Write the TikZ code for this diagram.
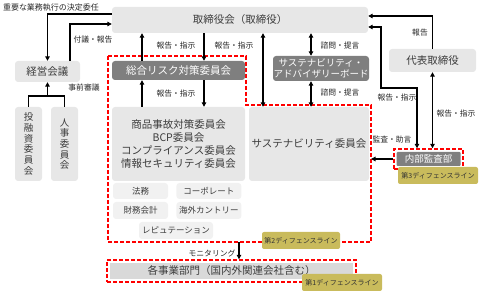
\documentclass[tikz,border=0pt]{standalone}
\usepackage{fontspec}
\setmainfont{Noto Sans CJK JP}
\usetikzlibrary{arrows.meta, positioning, calc}
\definecolor{boxgray}{RGB}{231,231,231}
\definecolor{subgray}{RGB}{241,241,241}
\definecolor{unitgray}{RGB}{217,217,217}
\definecolor{darkbox}{RGB}{127,127,127}
\definecolor{textgray}{RGB}{60,60,60}
\definecolor{lineolive}{RGB}{201,187,92}
\definecolor{framered}{RGB}{255,0,0}
\tikzset{
    lightbox/.style={rectangle, fill=boxgray, rounded corners=3pt, inner sep=0pt,
        text=textgray, align=center, font=\fontsize{10.5}{12.7}\selectfont},
    darkblock/.style={lightbox, fill=darkbox, text=white},
    subblock/.style={lightbox, fill=subgray, font=\fontsize{8.5}{10}\selectfont},
    vertblock/.style={lightbox, font=\fontsize{9.5}{10.7}\selectfont},
    defline/.style={rectangle, fill=lineolive, rounded corners=2pt, inner sep=0pt,
        text=black!80, font=\fontsize{7}{8}\selectfont},
    redframe/.style={draw=framered, line width=1.4pt, dash pattern=on 4pt off 2pt},
    lbl/.style={inner sep=0pt, text=black!85, font=\fontsize{7.8}{9}\selectfont},
    arrow/.style={-{Triangle[length=4.5pt, width=4.5pt]}, line width=1.2pt},
    twoway/.style={{Triangle[length=4.5pt, width=4.5pt]}-{Triangle[length=4.5pt, width=4.5pt]}, line width=1.2pt}
}

\begin{document}
\begin{tikzpicture}[x=1pt, y=-1pt]
    \useasboundingbox (0,0) rectangle (480,294);

    % 2nd defence line frame
    \coordinate (r1) at (108,56);
    \coordinate (r2) at (246,56);
    \coordinate (r3) at (246,105);
    \coordinate (r4) at (371,105);
    \coordinate (r5) at (371,242);
    \coordinate (r6) at (108,242);
    \draw[redframe] (r1) -- (r2) -- (r3) -- (r4) -- (r5) -- (r6) -- cycle;

    \node[lightbox, minimum width=256pt, minimum height=26pt] (board) at (240,20) {取締役会（取締役）};
    \node[lightbox, minimum width=65pt, minimum height=21pt] (keiei) at (47.5,71.5) {経営会議};
    \node[vertblock, minimum width=27pt, minimum height=74pt] (toyushi) at (28.5,144) {投\\融\\資\\委\\員\\会};
    \node[vertblock, minimum width=27pt, minimum height=74pt] (jinji) at (64.5,144) {人\\事\\委\\員\\会};

    \node[darkblock, minimum width=133pt, minimum height=19pt] (sogo) at (178.5,70.5) {総合リスク対策委員会};
    \node[darkblock, minimum width=96pt, minimum height=25pt, font=\fontsize{9.5}{11.5}\selectfont] (advisory) at (321,68.5) {サステナビリティ・\\アドバイザリーボード};
    \node[lightbox, minimum width=133pt, minimum height=74pt] (shohin) at (178.5,144) {商品事故対策委員会\\BCP委員会\\コンプライアンス委員会\\情報セキュリティ委員会};
    \node[lightbox, minimum width=120pt, minimum height=74pt] (sust) at (309,144) {サステナビリティ委員会};

    \node[subblock, minimum width=55pt, minimum height=16pt] (homu) at (140.5,191) {法務};
    \node[subblock, minimum width=65pt, minimum height=16pt, right=8pt of homu] (corp) {コーポレート};
    \node[subblock, minimum width=55pt, minimum height=17pt] (zaimu) at (140.5,210.5) {財務会計};
    \node[subblock, minimum width=65pt, minimum height=17pt, right=8pt of zaimu] (kaigai) {海外カントリー};
    \node[subblock, minimum width=74pt, minimum height=17pt] (repu) at (176,230.5) {レピュテーション};
    \node[defline, minimum width=78pt, minimum height=17pt] (line2) at (301,240.5) {第2ディフェンスライン};

    % 1st defence line
    \node[redframe, minimum width=249pt, minimum height=22pt] (jigyoframe) at (231.5,271) {};
    \node[lightbox, fill=unitgray, rounded corners=0pt, minimum width=243pt, minimum height=16pt] (jigyo) at (jigyoframe) {各事業部門（国内外関連会社含む）};
    \node[defline, minimum width=80pt, minimum height=17pt] (line1) at (342,282.5) {第1ディフェンスライン};

    % 3rd defence line
    \node[lightbox, minimum width=87pt, minimum height=23pt] (daihyo) at (432.5,60.5) {代表取締役};
    \node[redframe, minimum width=69pt, minimum height=20pt] (naibuframe) at (428.5,159) {};
    \node[darkblock, rounded corners=1pt, minimum width=64pt, minimum height=14pt, font=\fontsize{9.5}{11}\selectfont] (naibu) at (naibuframe) {内部監査部};
    \node[defline, minimum width=80pt, minimum height=17pt] (line3) at (438,175.5) {第3ディフェンスライン};

    % left side
    \node[lbl, font=\fontsize{8}{9}\selectfont] (inin) at (51,8) {重要な業務執行の決定委任};
    \draw[arrow] (board.west |- 0,14) -| (keiei.north);
    \draw[arrow] (keiei.north -| 70,0) |- (board.west |- 0,24);
    \node[lbl] (fugi) at (93,40) {付議・報告};
    \coordinate (merge) at (47.5,96);
    \draw[line width=1.2pt] (toyushi.north) |- (merge) -| (jinji.north);
    \draw[arrow] (merge) -- (keiei.south);
    \node[lbl] (jizen) at (84,88) {事前審議};

    % risk committee
    \draw[arrow] (sogo.north -| 142,0) -- (board.south -| 142,0);
    \draw[arrow] (board.south -| 204,0) -- (sogo.north -| 204,0);
    \node[lbl] (hs1) at (176,46) {報告・指示};
    \draw[arrow] (shohin.north -| 142,0) -- (sogo.south -| 142,0);
    \draw[arrow] (sogo.south -| 204,0) -- (shohin.north -| 204,0);
    \node[lbl] (hs2) at (176,94) {報告・指示};

    % sustainability
    \draw[twoway] (board.south -| 263,0) -- (sust.north -| 263,0);
    \node[lbl] (hs3) at (234,46) {報告・指示};
    \draw[twoway] (board.south -| 311,0) -- (advisory.north -| 311,0);
    \node[lbl] (sm1) at (340,46) {諮問・提言};
    \draw[twoway] (advisory.south -| 311,0) -- (sust.north -| 311,0);
    \node[lbl] (sm2) at (340,93) {諮問・提言};

    % right side
    \draw[arrow] (daihyo.north) |- (board.east |- 0,16);
    \node[lbl] (hokoku) at (420,33) {報告};
    \draw[twoway] (board.east |- 0,27) -| (381,88) -| (naibuframe.north -| 417,0);
    \node[lbl] (hs4) at (397,98) {報告・指示};
    \draw[twoway] (daihyo.south) -- (naibuframe.north -| daihyo.south);
    \node[lbl] (hs5) at (456,114) {報告・指示};
    \draw[arrow] (naibuframe.west) -- (naibuframe.west -| r4);
    \node[lbl] (kansa) at (392,140) {監査・助言};

    % monitoring
    \draw[arrow] (r5 -| 239,0) -- (jigyoframe.north -| 239,0);
    \node[lbl] (moni) at (212,253) {モニタリング};

\end{tikzpicture}
\end{document}
